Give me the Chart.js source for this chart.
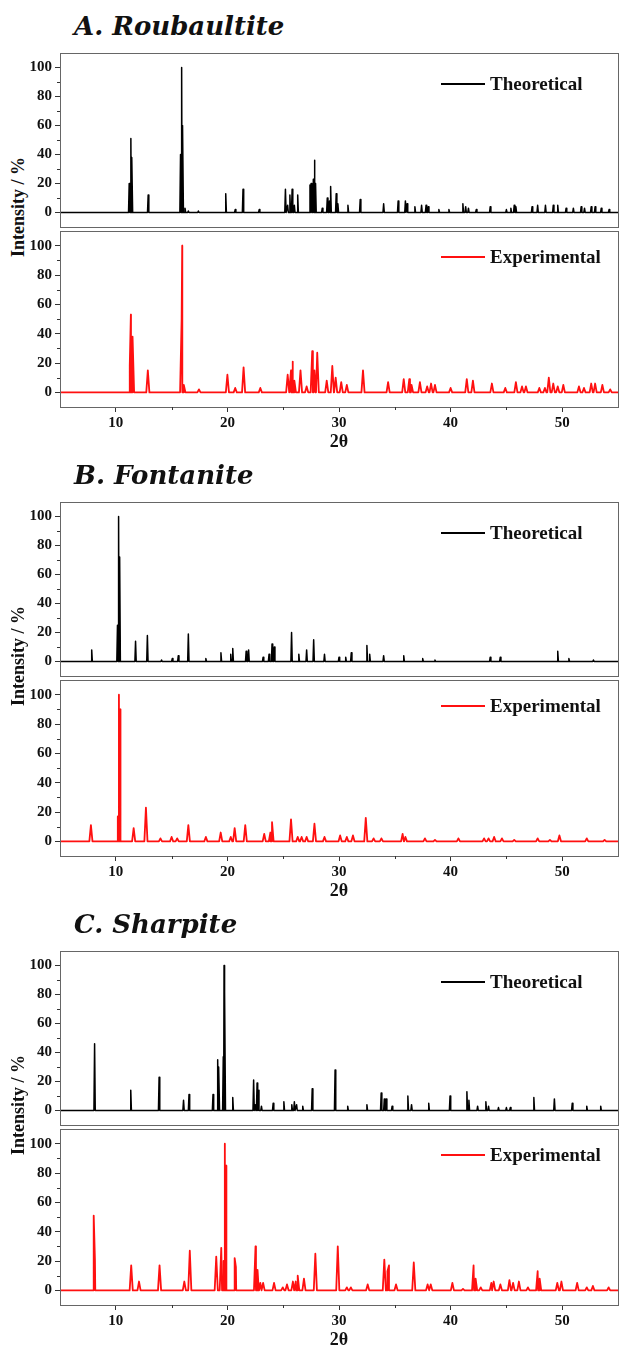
<!DOCTYPE html>
<html>
<head>
<meta charset="utf-8">
<script src="https://cdn.jsdelivr.net/npm/chart.js@4.4.0/dist/chart.umd.min.js"></script>
<style>
body { margin: 0; width: 622px; height: 1351px; background: #fff; position: relative; overflow: hidden; }
.panel { position: absolute; left: 0; width: 622px; height: 450px; }
.title { position: absolute; left: 74px; top: 11px; font: italic bold 26px "DejaVu Serif"; color: #111; white-space: nowrap; }
.ytitle { position: absolute; left: 18px; top: 207px; transform: translate(-50%, -50%) rotate(-90deg); font: bold 18px "Liberation Serif"; color: #111; white-space: nowrap; }
canvas { position: absolute; left: 0; }
</style>
</head>
<body>
<div id="root"></div>
<script>
// axis ticks
const xTicks = [10, 20, 30, 40, 50];
const xMinor = [15, 25, 35, 45];
const yTicks = [0, 20, 40, 60, 80, 100];
const yMinor = [10, 30, 50, 70, 90];

const panelTitles = ['A. Roubaultite', 'B. Fontanite', 'C. Sharpite'];
const seriesNames = ['Theoretical', 'Experimental'];

// peaks: [2theta, intensity %]
const roubTheo = [[11.2,20],[11.35,51],[11.45,38],[12.9,12],[15.8,40],[15.9,100],[16.0,60],[16.2,3],[16.5,1],[17.4,1],
  [19.85,13],[20.7,2],[21.4,16],[22.85,2],[25.2,16],[25.4,5],[25.6,12],[25.8,16],[26.0,5],[26.3,12],[27.4,19],[27.5,20],
  [27.7,23],[27.8,36],[27.9,20],[28.5,3],[28.95,10],[29.15,8],[29.25,18],[29.75,13],[29.9,6],[30.8,5],[31.9,9],[34.0,6],
  [35.3,8],[35.95,8],[36.1,6],[36.8,4],[37.4,5],[37.8,5],[38.0,4],[38.95,2],[39.85,2],[41.1,6],[41.35,4],[41.6,3],
  [42.3,2],[43.55,4],[45.0,2],[45.4,3],[45.7,5],[45.85,4],[47.3,4],[47.8,5],[48.5,5],[49.2,5],[49.6,5],[50.35,3],
  [51.0,3],[51.7,4],[52.0,3],[52.6,4],[52.95,4],[53.5,3],[54.2,2]];
const roubExp = [[11.25,18],[11.35,53],[11.5,38],[12.87,15],[15.9,50],[15.95,100],[16.1,5],[17.45,2],[20.0,12],[20.7,3],
  [21.45,17],[22.95,3],[25.4,12],[25.7,15],[25.85,21],[26.0,8],[26.55,15],[27.1,4],[27.6,28],[27.8,15],[28.05,27],
  [28.9,8],[29.4,18],[29.7,10],[30.2,7],[30.7,5],[32.15,15],[34.4,7],[35.8,9],[36.3,9],[36.5,5],[37.25,7],[37.9,4],
  [38.25,6],[38.6,5],[40.0,3],[41.45,9],[42.0,8],[43.7,6],[44.9,3],[45.85,7],[46.4,4],[46.75,4],[47.95,3],[48.45,3],
  [48.8,10],[49.2,6],[49.6,4],[50.1,5],[51.5,4],[51.95,3],[52.6,6],[52.95,6],[53.6,5],[54.3,2]];
const fontTheo = [[7.84,8],[10.15,25],[10.28,100],[10.35,72],[11.77,14],[12.83,18],[14.1,1],[15.06,2],[15.6,4],[16.5,19],
  [18.07,2],[19.42,6],[20.3,5],[20.48,9],[21.68,7],[21.9,8],[23.2,3],[23.73,5],[24.0,12],[24.2,10],[25.75,20],[26.4,5],
  [27.1,8],[27.73,15],[28.7,5],[30.0,3],[30.6,3],[31.1,6],[32.5,11],[32.75,5],[34.0,4],[35.8,4],[37.5,2],[38.6,1],
  [43.55,3],[44.45,3],[49.6,7],[50.6,2],[52.8,1]];
const fontExp = [[7.77,11],[10.18,17],[10.28,100],[10.4,90],[11.6,9],[12.7,23],[14.0,2],[15.0,3],[15.5,2],[16.5,11],
  [18.07,3],[19.4,6],[20.3,3],[20.65,9],[21.6,11],[23.3,5],[23.85,6],[24.0,13],[25.7,15],[26.3,3],[26.65,3],[27.1,3],
  [27.8,12],[28.7,3],[30.1,4],[30.7,3],[31.25,4],[32.4,16],[33.1,2],[33.8,2],[35.7,5],[35.95,3],[37.7,2],[38.6,1],
  [40.7,2],[43.0,2],[43.4,2],[43.9,3],[44.6,2],[45.7,1],[47.8,2],[48.9,1],[49.75,4],[52.2,2],[53.8,1]];
const sharpTheo = [[8.1,46],[11.34,14],[13.88,23],[16.07,7],[16.56,11],[18.71,11],[19.13,35],[19.24,30],[19.63,37],
  [19.7,100],[19.77,82],[20.48,9],[22.35,21],[22.49,4],[22.66,19],[22.77,14],[23.05,3],[24.1,5],[25.06,6],[25.77,4],
  [26.0,6],[26.2,4],[26.75,3],[27.6,15],[29.65,28],[30.78,3],[32.5,4],[33.78,12],[34.06,8],[34.23,8],[34.76,3],
  [36.17,10],[36.5,4],[38.04,5],[39.95,10],[41.46,13],[41.64,7],[42.42,3],[43.16,6],[43.4,3],[44.29,2],[45.0,2],
  [45.35,2],[47.46,9],[49.3,8],[50.9,5],[52.2,3],[53.45,3]];
const sharpExp = [[8.02,51],[8.13,21],[11.38,17],[12.08,6],[13.92,17],[16.14,6],[16.63,27],[19.0,23],[19.45,29],
  [19.66,20],[19.77,100],[19.88,85],[20.65,22],[20.76,16],[22.52,30],[22.7,14],[22.95,5],[23.2,5],[24.18,5],[24.96,2],
  [25.34,4],[25.87,6],[26.12,6],[26.3,10],[26.86,8],[27.88,25],[29.89,30],[30.7,2],[31.06,2],[32.57,4],[34.06,21],
  [34.34,13],[34.48,17],[35.11,4],[36.7,19],[37.94,4],[38.22,4],[40.16,5],[41.11,1],[42.06,17],[42.24,8],[42.7,2],
  [43.65,5],[43.86,6],[44.46,4],[45.27,7],[45.6,5],[46.12,6],[46.93,2],[47.8,13],[47.98,8],[49.56,5],[49.93,6],
  [51.34,5],[52.2,2],[52.75,3],[54.16,2]];

const panels = [
  { title: panelTitles[0], theo: roubTheo, exp: roubExp },
  { title: panelTitles[1], theo: fontTheo, exp: fontExp },
  { title: panelTitles[2], theo: sharpTheo, exp: sharpExp }
];

const axisColor = '#333';
const frameColor = '#666';
const tickFont = { family: 'Liberation Serif', size: 15, weight: 'bold' };

// each peak drawn as a narrow spike on the zero baseline
function profile(peaks, w) {
  var pts = [{x: 5, y: 0}, {x: 55, y: 0}];
  peaks.forEach(function (p) {
    pts.push({x: p[0] - w, y: 0}, {x: p[0], y: p[1]}, {x: p[0] + w, y: 0});
  });
  pts.sort(function (a, b) { return a.x - b.x; });
  return pts;
}

// box round the plot, minor ticks and the in-plot legend
const framePlugin = {
  id: 'frame',
  afterDraw: function (chart) {
    var ctx = chart.ctx, ca = chart.chartArea;
    var xs = chart.scales.x, ys = chart.scales.y;
    var opts = chart.options.plugins.frame;
    ctx.save();
    ctx.strokeStyle = frameColor;
    ctx.lineWidth = 1;
    ctx.strokeRect(Math.round(ca.left) + 0.5, Math.round(ca.top) + 0.5,
      Math.round(ca.right - ca.left), Math.round(ca.bottom - ca.top));
    ctx.strokeStyle = axisColor;
    ctx.beginPath();
    yMinor.forEach(function (v) {
      var y = Math.round(ys.getPixelForValue(v)) + 0.5;
      ctx.moveTo(ca.left - 3, y); ctx.lineTo(ca.left, y);
    });
    if (opts.bottomAxis) {
      xMinor.forEach(function (v) {
        var x = Math.round(xs.getPixelForValue(v)) + 0.5;
        ctx.moveTo(x, ca.bottom); ctx.lineTo(x, ca.bottom + 3);
      });
    }
    ctx.stroke();
    // legend
    var ds = chart.data.datasets[0];
    var ly = ca.top + opts.legendY;
    ctx.strokeStyle = ds.borderColor;
    ctx.lineWidth = 2;
    ctx.beginPath();
    ctx.moveTo(ca.right - 177, ly); ctx.lineTo(ca.right - 133, ly);
    ctx.stroke();
    ctx.fillStyle = '#111';
    ctx.font = 'bold 19px "Liberation Serif"';
    ctx.textBaseline = 'middle';
    ctx.fillText(ds.label, ca.right - 128, ly + 1);
    ctx.restore();
  }
};

function makeChart(canvas, peaks, label, color, bottomAxis) {
  return new Chart(canvas.getContext('2d'), {
    type: 'line',
    data: {
      datasets: [{
        label: label,
        data: profile(peaks, bottomAxis ? 0.14 : 0.06),
        borderColor: color,
        borderWidth: bottomAxis ? 1.8 : 1.5,
        borderJoinStyle: 'round',
        borderCapStyle: 'round',
        pointRadius: 0,
        tension: 0,
        fill: false
      }]
    },
    options: {
      responsive: false,
      animation: false,
      events: [],
      layout: { padding: { top: 10, bottom: bottomAxis ? 0 : 10, left: 0, right: 4 } },
      plugins: {
        legend: { display: false },
        tooltip: { enabled: false },
        frame: { bottomAxis: bottomAxis, legendY: bottomAxis ? 26 : 31 }
      },
      scales: {
        x: {
          type: 'linear',
          min: 5,
          max: 55,
          afterBuildTicks: function (axis) { axis.ticks = xTicks.map(function (v) { return {value: v}; }); },
          afterFit: function (axis) { axis.height = bottomAxis ? 46 : 0; },
          border: { color: axisColor, width: 1 },
          grid: { drawOnChartArea: false, drawTicks: bottomAxis, tickLength: 5, color: axisColor },
          ticks: { display: bottomAxis, autoSkip: false, maxRotation: 0, padding: 2, color: '#111', font: tickFont },
          title: { display: bottomAxis, text: '2θ', color: '#111', padding: 0,
            font: { family: 'Liberation Serif', size: 18, weight: 'bold' } }
        },
        y: {
          min: -10,
          max: 110,
          afterBuildTicks: function (axis) { axis.ticks = yTicks.map(function (v) { return {value: v}; }); },
          afterFit: function (axis) { axis.width = 60; },
          border: { color: axisColor, width: 1 },
          grid: { drawOnChartArea: false, tickLength: 5, color: axisColor },
          ticks: { padding: 3, color: '#111', font: tickFont }
        }
      }
    },
    plugins: [framePlugin]
  });
}

var root = document.getElementById('root');
panels.forEach(function (p, i) {
  var div = document.createElement('div');
  div.className = 'panel';
  div.style.top = (i * 449) + 'px';

  var t = document.createElement('div');
  t.className = 'title';
  t.textContent = p.title;
  div.appendChild(t);

  var yt = document.createElement('div');
  yt.className = 'ytitle';
  yt.textContent = 'Intensity / %';
  div.appendChild(yt);

  var c1 = document.createElement('canvas');
  c1.width = 622; c1.height = 198;
  c1.style.top = '41px';
  div.appendChild(c1);

  var c2 = document.createElement('canvas');
  c2.width = 622; c2.height = 234;
  c2.style.top = '219px';
  div.appendChild(c2);

  root.appendChild(div);
  makeChart(c1, p.theo, seriesNames[0], '#000000', false);
  makeChart(c2, p.exp, seriesNames[1], '#ff1010', true);
});
</script>
</body>
</html>
